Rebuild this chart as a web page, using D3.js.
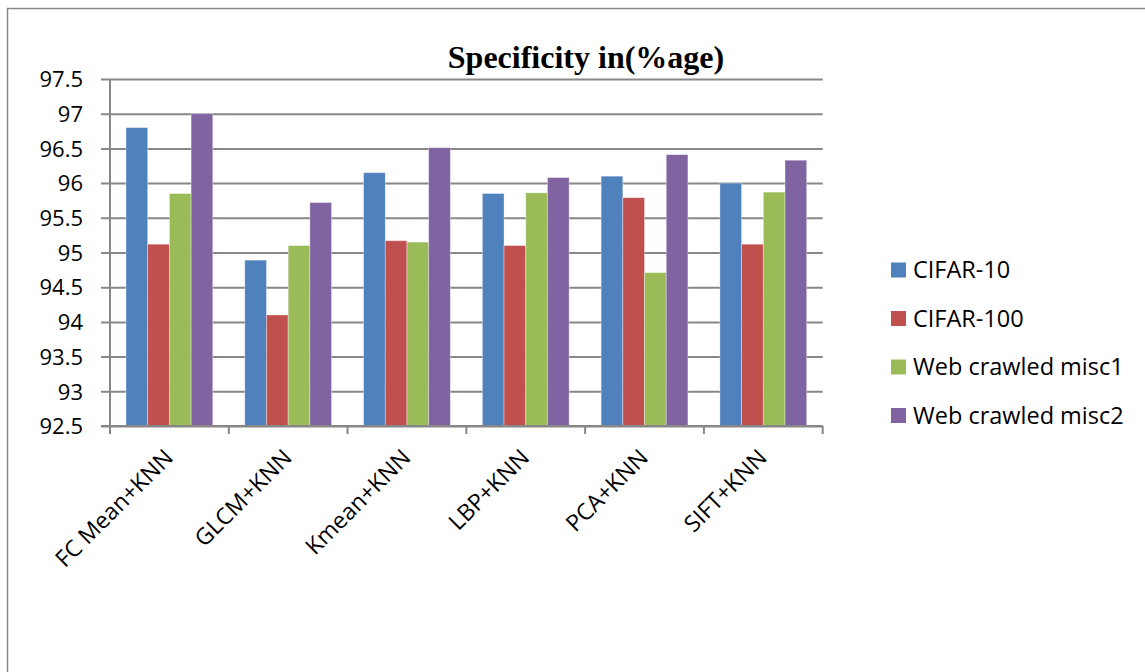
<!DOCTYPE html>
<html>
<head>
<meta charset="utf-8">
<script src="https://cdn.jsdelivr.net/npm/d3@7"></script>
<style>
  html, body { margin: 0; padding: 0; background: #fff; }
  svg { display: block; }
</style>
</head>
<body>
<svg id="chart" width="1145" height="672"></svg>
<script>
// Specificity (%) for each feature-extraction method, per dataset
const categories = ["FC Mean+KNN", "GLCM+KNN", "Kmean+KNN", "LBP+KNN", "PCA+KNN", "SIFT+KNN"];
const seriesNames = ["CIFAR-10", "CIFAR-100", "Web crawled misc1", "Web crawled misc2"];
const cifar10  = [96.8, 94.89, 96.15, 95.85, 96.1, 96.0];
const cifar100 = [95.12, 94.1, 95.17, 95.1, 95.79, 95.12];
const misc1    = [95.85, 95.1, 95.15, 95.86, 94.71, 95.87];
const misc2    = [97.0, 95.72, 96.51, 96.08, 96.41, 96.33];
const yTicks = [92.5, 93, 93.5, 94, 94.5, 95, 95.5, 96, 96.5, 97, 97.5];
const colors = ["#4F81BD", "#C0504D", "#9BBB59", "#8064A2"];

const seriesValues = [cifar10, cifar100, misc1, misc2];
const rows = categories.map((c, i) => ({
  category: c,
  values: seriesNames.map((s, j) => ({ series: s, value: seriesValues[j][i] }))
}));

const svg = d3.select("#chart");
const gridColor = "#878787";
const font = "'Open Sans', 'DejaVu Sans', sans-serif";

// outer frame of the chart area
svg.append("rect")
  .attr("x", 7.5).attr("y", 8.5)
  .attr("width", 1200).attr("height", 700)
  .attr("fill", "none").attr("stroke", gridColor).attr("stroke-width", 1.5);

const plot = { left: 110, right: 822.7, top: 79, bottom: 426 };

const x0 = d3.scaleBand().domain(categories).range([plot.left, plot.right]).padding(0);
const gap = 16;
const x1 = d3.scaleBand().domain(seriesNames).range([gap, x0.bandwidth() - gap]).padding(0);
const y = d3.scaleLinear().domain([92.5, 97.5]).range([plot.bottom, plot.top]);
const color = d3.scaleOrdinal().domain(seriesNames).range(colors);

// horizontal gridlines with outward tick marks
const yAxis = d3.axisLeft(y)
  .tickValues(yTicks)
  .tickSize(-(plot.right - plot.left))
  .tickSizeOuter(0)
  .tickPadding(0)
  .tickFormat(d3.format("~g"));

const gy = svg.append("g")
  .attr("transform", `translate(${plot.left},0)`)
  .call(yAxis);
gy.select(".domain").remove();
gy.selectAll(".tick line")
  .attr("x1", -9)
  .attr("stroke", gridColor).attr("stroke-width", 2);
gy.selectAll(".tick text")
  .attr("x", -27)
  .attr("dy", "0.35em")
  .attr("fill", "#000")
  .style("font-family", font)
  .style("font-size", "22px");

// bars
const groups = svg.append("g").selectAll("g")
  .data(rows).join("g")
  .attr("transform", d => `translate(${x0(d.category)},0)`);

groups.selectAll("rect")
  .data(d => d.values).join("rect")
  .attr("x", d => x1(d.series))
  .attr("y", d => y(d.value))
  .attr("width", x1.bandwidth())
  .attr("height", d => y(92.5) - y(d.value))
  .attr("fill", d => color(d.series))
  .attr("stroke", "rgba(255,255,255,0.45)")
  .attr("stroke-width", 0.8);

// vertical axis line
svg.append("line")
  .attr("x1", plot.left).attr("x2", plot.left)
  .attr("y1", plot.top).attr("y2", plot.bottom + 8)
  .attr("stroke", gridColor).attr("stroke-width", 2);

// category axis with tick marks at group boundaries
const boundaries = categories.map(c => x0(c)).concat([plot.right]);
svg.append("line")
  .attr("x1", plot.left - 9).attr("x2", plot.right)
  .attr("y1", plot.bottom).attr("y2", plot.bottom)
  .attr("stroke", gridColor).attr("stroke-width", 2);
svg.append("g").selectAll("line")
  .data(boundaries).join("line")
  .attr("x1", d => d).attr("x2", d => d)
  .attr("y1", plot.bottom).attr("y2", plot.bottom + 8)
  .attr("stroke", gridColor).attr("stroke-width", 2);

// rotated category labels
svg.append("g").selectAll("text")
  .data(categories).join("text")
  .attr("transform", d => `translate(${x0(d) + x0.bandwidth() / 2 + 5},${plot.bottom + 33}) rotate(-45)`)
  .attr("text-anchor", "end")
  .attr("fill", "#000")
  .style("font-family", font)
  .style("font-size", "23px")
  .text(d => d);

// title
svg.append("text")
  .attr("x", 586).attr("y", 68)
  .attr("text-anchor", "middle")
  .style("font-family", "'Liberation Serif', 'Times New Roman', serif")
  .style("font-weight", "bold")
  .style("font-size", "32px")
  .text("Specificity in(%age)");

// legend
const legend = svg.append("g").selectAll("g")
  .data(seriesNames).join("g")
  .attr("transform", (d, i) => `translate(891,${270 + i * 48.5})`);
legend.append("rect")
  .attr("x", 0).attr("y", -7.5)
  .attr("width", 15).attr("height", 15)
  .attr("fill", d => color(d));
legend.append("text")
  .attr("x", 22).attr("y", 0)
  .attr("dy", "0.35em")
  .attr("fill", "#000")
  .style("font-family", font)
  .style("font-size", "23.5px")
  .text(d => d);
</script>
</body>
</html>
